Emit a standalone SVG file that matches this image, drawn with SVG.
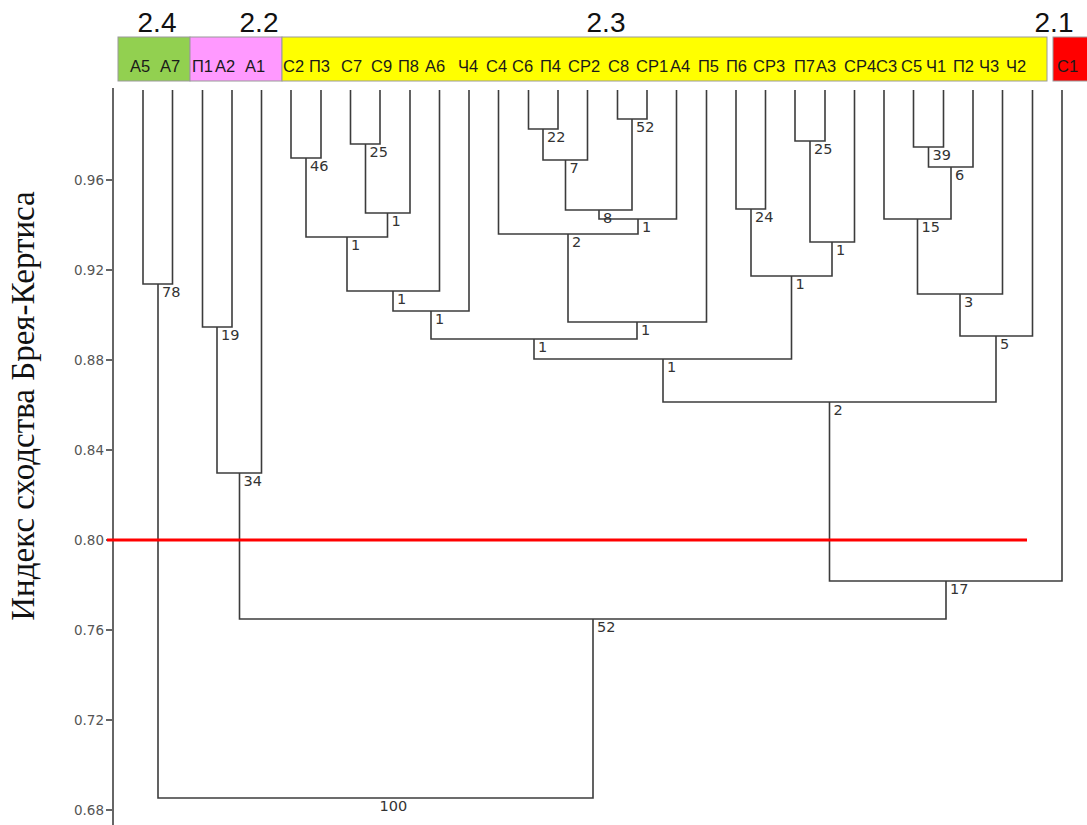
<svg xmlns="http://www.w3.org/2000/svg" width="1087" height="825" viewBox="0 0 1087 825">
<style>
.bg{fill:#ffffff}
.band{stroke:#9a9a9a;stroke-width:1}
.grp{font-family:"Liberation Sans",Arial,sans-serif;font-size:28px;fill:#111;text-anchor:middle}
.leaf{font-family:"Liberation Sans",Arial,sans-serif;font-size:16.5px;fill:#1a1a1a}
.tree{fill:none;stroke:#3c3c3c;stroke-width:1.6}
.sup{font-family:"DejaVu Sans",Verdana,sans-serif;font-size:14.5px;fill:#333}
.axis{stroke:#666;stroke-width:2;fill:none}
.tick{font-family:"DejaVu Sans",Verdana,sans-serif;font-size:13.5px;fill:#555;text-anchor:end}
.ylab{font-family:"Liberation Serif","Times New Roman",serif;font-size:33px;fill:#111;text-anchor:middle}
</style>
<rect class="bg" x="0" y="0" width="1087" height="825"/>

<g id="header">
  <rect class="band" x="118" y="37" width="72" height="44" fill="#92d050"/>
  <rect class="band" x="190" y="37" width="92" height="44" fill="#ff99ff"/>
  <rect class="band" x="282" y="37" width="765" height="44" fill="#ffff00"/>
  <rect class="band" x="1053" y="37" width="40" height="44" fill="#ff0000"/>
  <text class="grp" x="157" y="32">2.4</text>
  <text class="grp" x="259" y="32">2.2</text>
  <text class="grp" x="606" y="32">2.3</text>
  <text class="grp" x="1054" y="32">2.1</text>
</g>

<g id="leaves">
  <text class="leaf" x="130" y="72">А5</text>
  <text class="leaf" x="160" y="72">А7</text>
  <text class="leaf" x="192" y="72">П1</text>
  <text class="leaf" x="215" y="72">А2</text>
  <text class="leaf" x="245" y="72">А1</text>
  <text class="leaf" x="283" y="72">С2</text>
  <text class="leaf" x="309" y="72">П3</text>
  <text class="leaf" x="341" y="72">С7</text>
  <text class="leaf" x="371" y="72">С9</text>
  <text class="leaf" x="398" y="72">П8</text>
  <text class="leaf" x="425" y="72">А6</text>
  <text class="leaf" x="458" y="72">Ч4</text>
  <text class="leaf" x="486" y="72">С4</text>
  <text class="leaf" x="512" y="72">С6</text>
  <text class="leaf" x="540" y="72">П4</text>
  <text class="leaf" x="568" y="72">СР2</text>
  <text class="leaf" x="608" y="72">С8</text>
  <text class="leaf" x="636" y="72">СР1</text>
  <text class="leaf" x="670" y="72">А4</text>
  <text class="leaf" x="698" y="72">П5</text>
  <text class="leaf" x="726" y="72">П6</text>
  <text class="leaf" x="753" y="72">СР3</text>
  <text class="leaf" x="794" y="72">П7</text>
  <text class="leaf" x="816" y="72">А3</text>
  <text class="leaf" x="844" y="72">СР4</text>
  <text class="leaf" x="876" y="72">С3</text>
  <text class="leaf" x="901" y="72">С5</text>
  <text class="leaf" x="926" y="72">Ч1</text>
  <text class="leaf" x="953" y="72">П2</text>
  <text class="leaf" x="979" y="72">Ч3</text>
  <text class="leaf" x="1006" y="72">Ч2</text>
  <text class="leaf" x="1057" y="72">С1</text>
</g>

<g id="axis">
  <line class="axis" x1="113" y1="88" x2="113" y2="825"/>
  <path class="axis" d="M106 180H113M106 270H113M106 360H113M106 450H113M106 540H113M106 630H113M106 720H113M106 810H113"/>
  <text class="tick" x="104" y="185">0.96</text>
  <text class="tick" x="104" y="275">0.92</text>
  <text class="tick" x="104" y="365">0.88</text>
  <text class="tick" x="104" y="455">0.84</text>
  <text class="tick" x="104" y="545">0.80</text>
  <text class="tick" x="104" y="635">0.76</text>
  <text class="tick" x="104" y="725">0.72</text>
  <text class="tick" x="104" y="815">0.68</text>
  <text class="ylab" transform="translate(34,406) rotate(-90)">Индекс сходства Брея-Кертиса</text>
</g>

<g id="connectors">
  <path class="tree" d="M143 90V284H172.5V90"/>
  <path class="tree" d="M202.5 90V327H232V90"/>
  <path class="tree" d="M217 327V473H261.5V90"/>
  <path class="tree" d="M291 90V158H321V90"/>
  <path class="tree" d="M350.5 90V144H380V90"/>
  <path class="tree" d="M365.5 144V213H410V90"/>
  <path class="tree" d="M306 158V237H387.5V213"/>
  <path class="tree" d="M347 237V291H439.5V90"/>
  <path class="tree" d="M393 291V311H469V90"/>
  <path class="tree" d="M528.5 90V129H558V90"/>
  <path class="tree" d="M543 129V160H587.5V90"/>
  <path class="tree" d="M617.5 90V119H647V90"/>
  <path class="tree" d="M565.5 160V210H632V119"/>
  <path class="tree" d="M599 210V219H676.5V90"/>
  <path class="tree" d="M498.5 90V234H638V219"/>
  <path class="tree" d="M568 234V322H706.5V90"/>
  <path class="tree" d="M431 311V339H637V322"/>
  <path class="tree" d="M736 90V209H765.5V90"/>
  <path class="tree" d="M795 90V141H825V90"/>
  <path class="tree" d="M810 141V242H854.5V90"/>
  <path class="tree" d="M751 209V276H832V242"/>
  <path class="tree" d="M534 339V359H791.5V276"/>
  <path class="tree" d="M913.5 90V147H943.5V90"/>
  <path class="tree" d="M928.5 147V167H973V90"/>
  <path class="tree" d="M884 90V219H951V167"/>
  <path class="tree" d="M917.5 219V294H1002.5V90"/>
  <path class="tree" d="M960 294V336H1032.5V90"/>
  <path class="tree" d="M663 359V402H996V336"/>
  <path class="tree" d="M829.5 402V581H1062V90"/>
  <path class="tree" d="M239.5 473V619H946V581"/>
  <path class="tree" d="M158 284V798H593V619"/>
</g>

<g id="support">
  <text class="sup" x="162" y="297">78</text>
  <text class="sup" x="221" y="340">19</text>
  <text class="sup" x="243.5" y="486">34</text>
  <text class="sup" x="310" y="171">46</text>
  <text class="sup" x="369.5" y="157">25</text>
  <text class="sup" x="391.5" y="226">1</text>
  <text class="sup" x="351" y="250">1</text>
  <text class="sup" x="397" y="304">1</text>
  <text class="sup" x="435" y="324">1</text>
  <text class="sup" x="547" y="142">22</text>
  <text class="sup" x="569.5" y="173">7</text>
  <text class="sup" x="636" y="132">52</text>
  <text class="sup" x="603" y="223">8</text>
  <text class="sup" x="642" y="232">1</text>
  <text class="sup" x="572" y="247">2</text>
  <text class="sup" x="641" y="335">1</text>
  <text class="sup" x="538" y="352">1</text>
  <text class="sup" x="755" y="222">24</text>
  <text class="sup" x="814" y="154">25</text>
  <text class="sup" x="836" y="255">1</text>
  <text class="sup" x="795.5" y="289">1</text>
  <text class="sup" x="667" y="372">1</text>
  <text class="sup" x="932.5" y="160">39</text>
  <text class="sup" x="955" y="180">6</text>
  <text class="sup" x="921.5" y="232">15</text>
  <text class="sup" x="964" y="307">3</text>
  <text class="sup" x="1000" y="349">5</text>
  <text class="sup" x="833.5" y="415">2</text>
  <text class="sup" x="950" y="594">17</text>
  <text class="sup" x="597" y="632">52</text>
  <text class="sup" x="379.5" y="811">100</text>
</g>

<line id="cutoff" x1="107" y1="540" x2="1027" y2="540" stroke="#ff0000" stroke-width="3"/>
</svg>
